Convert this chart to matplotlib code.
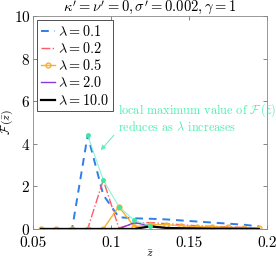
import numpy as np
import matplotlib.pyplot as plt

plt.rcParams["font.family"] = "cmr10"
plt.rcParams["mathtext.fontset"] = "cm"
plt.rcParams["axes.formatter.use_mathtext"] = True

z = [0.055, 0.065, 0.075, 0.085, 0.095, 0.105, 0.115, 0.125,
     0.135, 0.145, 0.155, 0.165, 0.175, 0.185, 0.195]
f_01 = [0, 0, 0, 4.4, 1.6, 0.55, 0.5, 0.48, 0.45, 0.4, 0.35, 0.3, 0.25, 0.2, 0.12]
f_02 = [0, 0, 0, 0, 2.3, 0.05, 0.25, 0.3, 0.25, 0.2, 0.15, 0.12, 0.1, 0.07, 0.05]
f_05 = [0, 0, 0, 0, 0, 1.05, 0.1, 0.2, 0.2, 0.15, 0.1, 0.1, 0.08, 0.05, 0.05]
f_2 = [0, 0, 0, 0, 0, 0, 0.3, 0.15, 0.05, 0.04, 0.03, 0.02, 0.02, 0.01, 0.01]
f_10 = [0, 0, 0, 0, 0, 0, 0, 0.12, 0.05, 0.03, 0.02, 0.01, 0.01, 0.01, 0.0]

peak_z = [0.085, 0.095, 0.105, 0.115, 0.125]
peak_f = [4.4, 2.3, 1.05, 0.4, 0.15]

fig = plt.figure(figsize=(2.76, 2.59), dpi=100)
ax = fig.add_axes([0.12, 0.116, 0.847, 0.822])

ax.plot(z, f_01, "--", color="#2f7fe8", lw=1.4, dashes=(4, 3), label=r"$\lambda = 0.1$")
ax.plot(z, f_02, "-.", color="#ff5a6a", lw=1.0, label=r"$\lambda = 0.2$")
ax.plot(z, f_05, "-", color="#f5b030", lw=1.0, marker="o", ms=3.5, mfc="none",
        label=r"$\lambda = 0.5$")
ax.plot(z, f_2, "-", color="#8a3ad8", lw=1.0, label=r"$\lambda = 2.0$")
ax.plot(z, f_10, "-", color="black", lw=1.6, label=r"$\lambda = 10.0$")
ax.plot(peak_z, peak_f, "-", color="#7ff5cf", lw=0.7, marker="o", ms=2.5,
        mfc="#3ee8a0", mec="#3ee8a0")

ax.annotate("", xy=(0.0922, 3.6), xytext=(0.103, 4.5),
            arrowprops=dict(arrowstyle="-|>", color="#5ff0b8", lw=0.7,
                            mutation_scale=7))
ax.text(0.1045, 5.25, "local maximum value of $\\mathcal{F}\\,(\\bar{z})$\nreduces as $\\lambda$ increases",
        color="#4ef0b0", fontsize=8.8, va="center", ha="left", linespacing=1.1)

ax.set_xlim(0.05, 0.2)
ax.set_ylim(0, 10)
ax.set_xticks([0.05, 0.1, 0.15, 0.2])
ax.set_xticklabels(["0.05", "0.1", "0.15", "0.2"])
ax.set_yticks([0, 2, 4, 6, 8, 10])
ax.tick_params(direction="in", top=True, right=True, labelsize=11, length=3,
               width=0.5, color="#555555")
ax.tick_params(axis="x", pad=5.5)
ax.tick_params(axis="y", pad=2)
for s in ax.spines.values():
    s.set_linewidth(0.6)
    s.set_color("#888888")

ax.set_xlabel(r"$\bar{z}$", fontsize=8.5)
ax.xaxis.set_label_coords(0.5, -0.088)
ax.set_ylabel(r"$\mathcal{F}\,(\bar{z})$", fontsize=8.5)
ax.yaxis.set_label_coords(-0.078, 0.5)
ax.set_title(r"$\kappa' = \nu' = 0, \sigma' = 0.002, \gamma = 1$", fontsize=10.5, pad=3)

leg = ax.legend(loc="upper left", fontsize=10.3, handlelength=1.0, handletextpad=0.2,
                borderpad=0.25, labelspacing=0.15, fancybox=False, borderaxespad=0.3,
                edgecolor="#333333", framealpha=1)
leg.get_frame().set_linewidth(0.6)

fig.savefig("out.png", dpi=100)
